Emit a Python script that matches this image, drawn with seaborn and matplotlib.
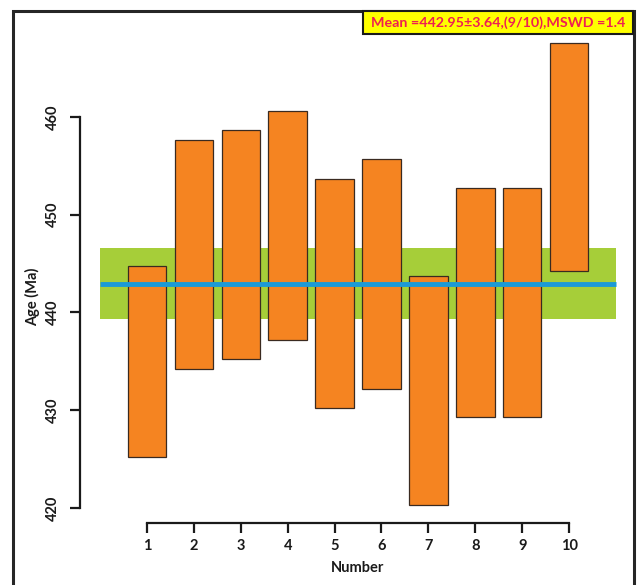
import matplotlib
matplotlib.use("Agg")
import matplotlib.pyplot as plt
import seaborn as sns
import numpy as np
import pandas as pd
from matplotlib.lines import Line2D
from matplotlib.patches import Rectangle

# ---- data ----
numbers = [1, 2, 3, 4, 5, 6, 7, 8, 9, 10]
age_low = [425.2, 434.2, 435.2, 437.2, 430.2, 432.2, 420.3, 429.3, 429.3, 444.2]
age_high = [444.8, 457.6, 458.7, 460.6, 453.7, 455.7, 443.7, 452.7, 452.7, 467.6]
mean_age = 442.95
mean_err = 3.64
y_ticks = [420, 430, 440, 450, 460]
x_ticks = numbers
title_text = "Mean =442.95\u00b13.64,(9/10),MSWD =1.4"

df = pd.DataFrame({"Number": numbers,
                   "height": np.array(age_high) - np.array(age_low),
                   "low": age_low})

sns.set_theme(style="white")
plt.rcParams["font.family"] = ["Lato", "DejaVu Sans"]
plt.rcParams["font.weight"] = "bold"

W, H = 641, 585
fig = plt.figure(figsize=(W / 100, H / 100), dpi=100)
fl, fr, ft, fb = 13, 634, 11, 583
ax = fig.add_axes([fl / W, (H - fb) / H, (fr - fl) / W, (fb - ft) / H])
ax.set_facecolor("white")

orange = "#F58421"
green = "#A6CE39"
blue = "#1B9AD6"

# band + mean line
ax.fill_between([0, 11], mean_age - mean_err, mean_age + mean_err,
                color=green, linewidth=0, zorder=1)

sns.barplot(data=df, x="Number", y="height", bottom=df["low"].values,
            native_scale=True, width=0.82, color=orange, saturation=1,
            edgecolor="#3a2a20", linewidth=0.9, ax=ax, zorder=2)

ax.hlines(mean_age, 0, 11, color=blue, linewidth=3.5, zorder=3)

ax.set_xlim(-1.857, 11.384)
ax.set_ylim(412.33, 470.84)

# R-style axes
ax.spines["top"].set_visible(False)
ax.spines["right"].set_visible(False)
for s in ("left", "bottom"):
    ax.spines[s].set_visible(True)
    ax.spines[s].set_linewidth(1.6)
    ax.spines[s].set_color("#1a1a1a")
ax.spines["left"].set_position(("data", -0.4286))
ax.spines["bottom"].set_position(("data", 418.46))
ax.spines["left"].set_bounds(420, 460)
ax.spines["bottom"].set_bounds(1, 10)

ax.set_xticks(x_ticks)
ax.set_xticklabels([str(v) for v in x_ticks])
ax.set_yticks(y_ticks)
ax.set_yticklabels([str(v) for v in y_ticks])
ax.tick_params(axis="both", direction="out", length=7.2, width=1.6,
               color="#1a1a1a", labelsize=10.5, labelcolor="#1a1a1a")
ax.tick_params(axis="x", pad=4.5)
ax.tick_params(axis="y", pad=7)
ax.tick_params(left=True, bottom=True)
for lab in ax.get_yticklabels():
    lab.set_rotation(90)
    lab.set_va("center")
    lab.set_fontweight("bold")
for lab in ax.get_xticklabels():
    lab.set_fontweight("bold")

ax.set_xlabel("")
ax.set_ylabel("")
aw, ah = fr - fl, fb - ft
ax.text((33 - fl) / aw, (fb - 297) / ah, "Age (Ma)", rotation=90,
        ha="center", va="center", fontsize=10.5, fontweight="bold",
        color="#1a1a1a", transform=ax.transAxes)
ax.text((358 - fl) / aw, (fb - 568) / ah, "Number",
        ha="center", va="center", fontsize=10.5, fontweight="bold",
        color="#1a1a1a", transform=ax.transAxes)

# outer frame (left, top, right)
frame = Line2D([0, 0, 1, 1], [-0.01, 1, 1, -0.01], transform=ax.transAxes,
               color="#262626", linewidth=2.2, clip_on=False, zorder=5,
               solid_joinstyle="miter")
ax.add_line(frame)

# title box
bx0, bx1, by0, by1 = 363, 633, 11, 34
ax.add_patch(Rectangle(((bx0 - fl) / aw, (fb - by1) / ah), (bx1 - bx0) / aw,
                       (by1 - by0) / ah, transform=ax.transAxes,
                       facecolor="#FFFF00", edgecolor="#1a1a1a", linewidth=1.5,
                       clip_on=False, zorder=6))
ax.text(((bx0 + bx1) / 2 - fl) / aw, (fb - (by0 + by1) / 2) / ah, title_text,
        ha="center", va="center", fontsize=10.3, fontweight="bold",
        color="#EE1F52", transform=ax.transAxes, zorder=7)

fig.savefig("out.png", dpi=100, facecolor="white")
